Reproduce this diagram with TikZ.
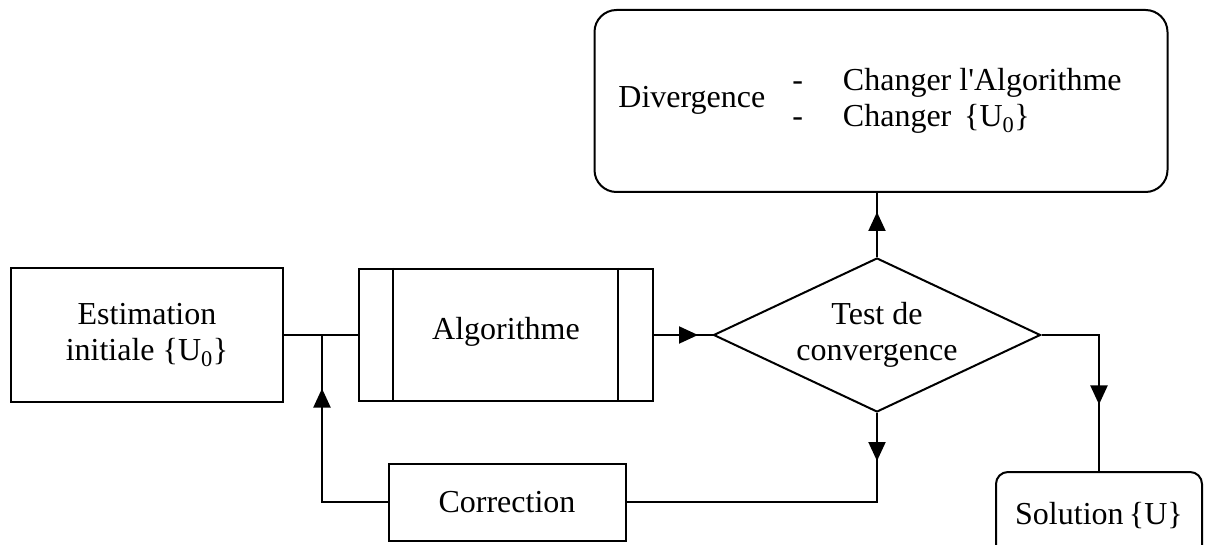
\documentclass[tikz,border=0pt]{standalone}
\usepackage{fontspec}
\setmainfont{Liberation Serif}
\usetikzlibrary{shapes.geometric,arrows.meta,decorations.markings}

\tikzset{
  boxstyle/.style={draw, line width=2pt, rectangle, align=center, inner sep=0pt},
  roundbox/.style={boxstyle, rounded corners=#1},
  testshape/.style={draw, line width=2pt, diamond, aspect=2.12, align=center, inner sep=0pt,
    minimum width=327pt, minimum height=154pt},
  link/.style={line width=2pt},
  midarrow/.style={link, postaction={decorate},
    decoration={markings, mark=at position #1 with {\arrow{Triangle[length=19pt,width=17pt]}}}},
}

\begin{document}
\begin{tikzpicture}[x=1pt, y=-1pt, every node/.style={font=\fontsize{32}{36}\selectfont}]
  % frame of the picture
  \useasboundingbox (0,0) rectangle (1208,545);
  \clip (0,0) rectangle (1208,545);

  % blocks
  \node[boxstyle, minimum width=272pt, minimum height=133pt] (estim) at (147,335)
    {Estimation\\initiale \{U\textsubscript{0}\}};
  \node[boxstyle, minimum width=294pt, minimum height=132pt] (algo) at (506,335)
    {\raisebox{13pt}{Algorithme}};
  \node[testshape] (test) at (877,335) {Test de\\convergence};
  \node[boxstyle, minimum width=237pt, minimum height=77pt] (corr) at (507,502) {Correction};
  \node[roundbox=22pt, minimum width=573pt, minimum height=182pt] (diverg) at (881,101)
    {Divergence\hspace{27pt}\begin{tabular}{@{}l@{\hspace{40pt}}l@{}}
      -&Changer l\textquotesingle Algorithme\\
      -&Changer\hspace{0.4em}\{U\textsubscript{0}\}
    \end{tabular}\hspace{22pt}};
  \node[roundbox=12pt, minimum width=206pt, minimum height=88pt] (sol) at (1099,516)
    {Solution\,\{U\}};

  % side bars of the algorithme block
  \draw[link] ([xshift=35pt]algo.north west) -- ([xshift=35pt]algo.south west);
  \draw[link] ([xshift=-36pt]algo.north east) -- ([xshift=-36pt]algo.south east);

  \coordinate (join) at (322,335);

  % connectors
  \draw[link] (estim.east) -- (algo.west);
  \draw[midarrow=44pt] (algo.east) -- (test.west);
  \draw[midarrow=45pt] (test.north) -- (test.north |- diverg.south);
  \draw[midarrow=48pt] (test.south) |- (corr.east);
  \draw[midarrow=179pt] (corr.west) -| (join);
  \draw[midarrow=127pt] (test.east) -| (sol.north);
\end{tikzpicture}
\end{document}
